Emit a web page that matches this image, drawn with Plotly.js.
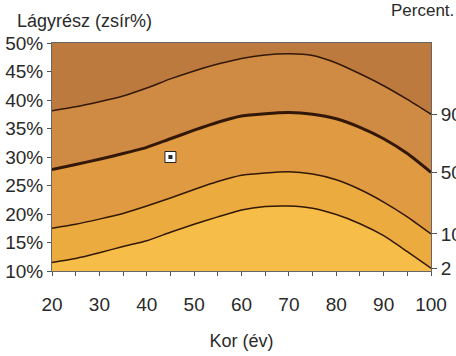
<!DOCTYPE html>
<html>
<head>
<meta charset="utf-8">
<script src="https://cdn.plot.ly/plotly-3.0.1.min.js"></script>
<style>html,body{margin:0;padding:0;background:#fff;}#chart{width:456px;height:356px;}</style>
</head>
<body>
<div id="chart"></div>
<script>
var ages = [20, 25, 30, 35, 40, 45, 50, 55, 60, 65, 70, 75, 80, 85, 90, 95, 100];
var p90 = [38.1, 38.8, 39.7, 40.7, 42.1, 43.7, 45.1, 46.3, 47.3, 47.9, 48.1, 47.8, 46.5, 44.6, 42.5, 40.1, 37.5];
var p50 = [27.8, 28.7, 29.6, 30.6, 31.7, 33.2, 34.7, 36.1, 37.2, 37.6, 37.8, 37.5, 36.7, 35.2, 33.2, 30.6, 27.3];
var p10 = [17.5, 18.2, 19.1, 20.1, 21.4, 22.8, 24.3, 25.7, 26.8, 27.2, 27.4, 27.0, 26.0, 24.3, 22.1, 19.5, 16.5];
var p2  = [11.5, 12.2, 13.2, 14.3, 15.3, 16.8, 18.2, 19.5, 20.7, 21.3, 21.4, 21.0, 19.9, 18.3, 16.2, 13.4, 10.5];
var percentileLabels = ['90', '50', '10', '2'];
var pointAge = [45];
var pointFat = [30];

var regionColors = ['#bd7a3e', '#cf8a43', '#df9a42', '#ecab3e', '#f6bd48'];
var lineColor = '#331808';
var curves = [p90, p50, p10, p2];
var widths = [1.5, 3, 1.5, 1.5];

var traces = curves.map(function (c, i) {
  return {
    x: ages, y: c, type: 'scatter', mode: 'lines',
    line: {color: lineColor, width: widths[i], shape: 'spline', smoothing: 0.6},
    fill: 'tozeroy', fillcolor: regionColors[i + 1],
    hoverinfo: 'skip', showlegend: false
  };
});
traces.push({
  x: pointAge, y: pointFat, type: 'scatter', mode: 'markers',
  marker: {symbol: 'square', size: 11, color: '#ffffff', line: {color: '#222', width: 1}},
  showlegend: false
});
traces.push({
  x: pointAge, y: pointFat, type: 'scatter', mode: 'markers',
  marker: {symbol: 'square', size: 4, color: '#2a2a2a'},
  showlegend: false
});
// right axis with percentile labels
traces.push({
  x: [ages[ages.length - 1]], y: [p50[p50.length - 1]], type: 'scatter', mode: 'markers',
  yaxis: 'y2', marker: {opacity: 0}, showlegend: false, hoverinfo: 'skip'
});

var font = {family: 'Arial, "Liberation Sans", sans-serif', color: '#2a2a2a'};
var layout = {
  width: 456, height: 356,
  margin: {l: 52, r: 25, t: 43, b: 85},
  paper_bgcolor: '#ffffff',
  plot_bgcolor: regionColors[0],
  font: font,
  showlegend: false,
  xaxis: {
    range: [20, 100], dtick: 10, tick0: 20,
    ticks: 'outside', ticklen: 4, tickcolor: '#555', tickwidth: 1,
    minor: {dtick: 5, ticks: 'outside', ticklen: 4, tickcolor: '#555'},
    showline: true, linecolor: '#666', linewidth: 1, mirror: true,
    showgrid: false, zeroline: false,
    tickfont: {size: 19, family: font.family, color: '#2a2a2a'},
    ticklabelstandoff: 12,
    title: {text: 'Kor (év)', font: {size: 18, family: font.family, color: '#2a2a2a'}, standoff: 20}
  },
  yaxis: {
    range: [10, 50], dtick: 5, tick0: 10, ticksuffix: '%',
    ticks: 'outside', ticklen: 4, tickcolor: '#555',
    showline: true, linecolor: '#666', linewidth: 1, mirror: true,
    showgrid: false, zeroline: false,
    tickfont: {size: 19, family: font.family, color: '#2a2a2a'}
  },
  yaxis2: {
    range: [10, 50], overlaying: 'y', side: 'right',
    tickvals: [p90[p90.length - 1], p50[p50.length - 1], p10[p10.length - 1], p2[p2.length - 1]],
    ticktext: percentileLabels,
    ticks: 'outside', ticklen: 5, tickcolor: '#555',
    showgrid: false, zeroline: false, showline: false,
    tickfont: {size: 19, family: font.family, color: '#2a2a2a'}
  },
  annotations: [
    {text: 'Lágyrész (zsír%)', xref: 'paper', yref: 'paper', x: -0.098, y: 1.0, yshift: 22,
     xanchor: 'left', yanchor: 'middle', showarrow: false, font: {size: 18, family: font.family, color: '#2a2a2a'}},
    {text: 'Percent.', xref: 'paper', yref: 'paper', x: 1.066, y: 1.0, yshift: 33,
     xanchor: 'right', yanchor: 'middle', showarrow: false, font: {size: 17, family: font.family, color: '#2a2a2a'}}
  ]
};
Plotly.newPlot('chart', traces, layout, {staticPlot: true, displayModeBar: false});
</script>
</body>
</html>
